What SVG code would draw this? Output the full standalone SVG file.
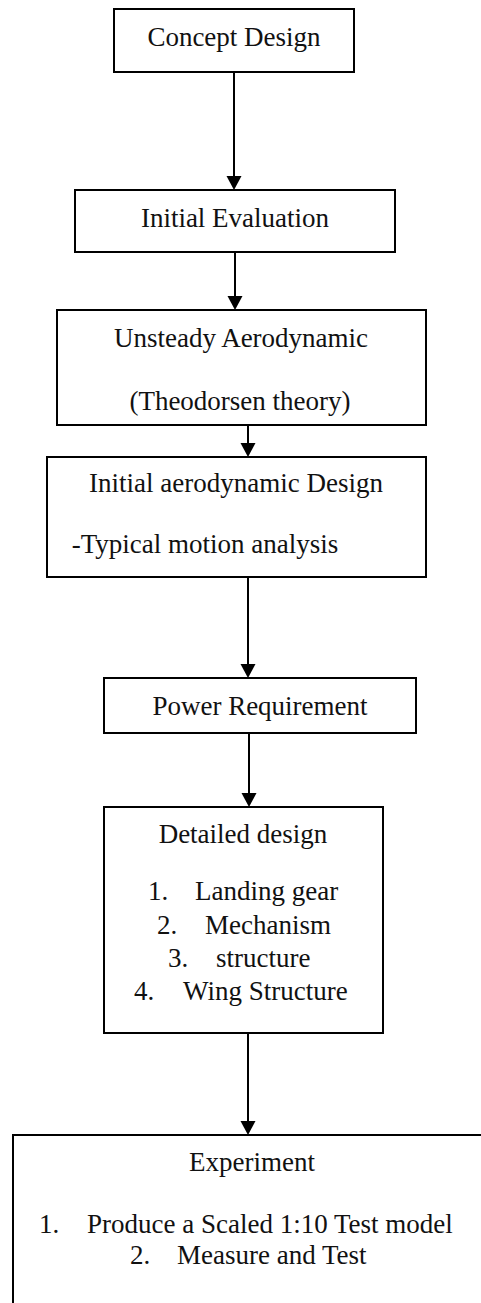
<svg xmlns="http://www.w3.org/2000/svg" width="481" height="1303" viewBox="0 0 481 1303">
<style>
.box{fill:#fff;stroke:#000;stroke-width:2}
.t{font-family:"Liberation Serif","Times New Roman",serif;font-size:27px;fill:#111}
.c{text-anchor:middle}
.con{stroke:#000;stroke-width:2;fill:none;marker-end:url(#ah)}
</style>
<defs>
<marker id="ah" markerUnits="userSpaceOnUse" markerWidth="16" markerHeight="16" refX="6" refY="7.5" orient="auto">
<path d="M0,0 L14,7.5 L0,15 z" fill="#000"/>
</marker>
</defs>
<rect width="481" height="1303" fill="#fff"/>
<g id="n1"><rect class="box" x="114" y="9" width="240" height="63"/><text class="t c" x="234" y="46">Concept Design</text></g>
<g id="n2"><rect class="box" x="75" y="190" width="320" height="62"/><text class="t c" x="235" y="227">Initial Evaluation</text></g>
<g id="n3"><rect class="box" x="57" y="310" width="369" height="115"/><text class="t c" x="241" y="347">Unsteady Aerodynamic</text><text class="t c" x="240" y="410">(Theodorsen theory)</text></g>
<g id="n4"><rect class="box" x="47" y="457" width="379" height="120"/><text class="t c" x="236" y="492">Initial aerodynamic Design</text><text class="t c" x="205" y="553">-Typical motion analysis</text></g>
<g id="n5"><rect class="box" x="104" y="678" width="312" height="55"/><text class="t c" x="260" y="715">Power Requirement</text></g>
<g id="n6"><rect class="box" x="104" y="807" width="279" height="226"/><text class="t c" x="243" y="843">Detailed design</text>
<text class="t" x="148" y="900">1.</text><text class="t" x="195" y="900">Landing gear</text>
<text class="t" x="157" y="934">2.</text><text class="t" x="205" y="934">Mechanism</text>
<text class="t" x="168" y="967">3.</text><text class="t" x="216" y="967">structure</text>
<text class="t" x="134" y="1000">4.</text><text class="t" x="183" y="1000">Wing Structure</text></g>
<g id="n7"><rect class="box" x="13" y="1135" width="490" height="190"/><text class="t c" x="252" y="1171">Experiment</text>
<text class="t" x="39" y="1233">1.</text><text class="t" x="87" y="1233">Produce a Scaled 1:10 Test model</text>
<text class="t" x="130" y="1264">2.</text><text class="t" x="177" y="1264">Measure and Test</text></g>
<g id="connectors">
<line class="con" x1="234" y1="72" x2="234" y2="182"/>
<line class="con" x1="235" y1="252" x2="235" y2="302"/>
<line class="con" x1="248" y1="425" x2="248" y2="449"/>
<line class="con" x1="248" y1="577" x2="248" y2="670"/>
<line class="con" x1="249" y1="733" x2="249" y2="799"/>
<line class="con" x1="248" y1="1033" x2="248" y2="1127"/>
</g>
</svg>
